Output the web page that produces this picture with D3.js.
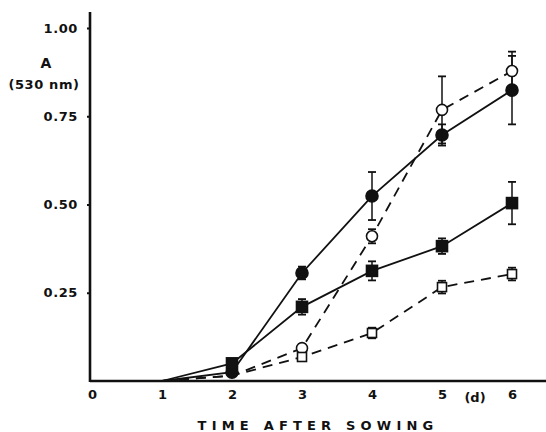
<!DOCTYPE html>
<html>
<head>
<meta charset="utf-8">
<script src="https://cdn.jsdelivr.net/npm/d3@7"></script>
<style>
  body { margin: 0; background: #fff; }
  text { font-family: "DejaVu Sans", sans-serif; font-weight: bold; fill: #111; }
</style>
</head>
<body>
<svg id="chart" width="546" height="432"></svg>
<script>
// days after sowing
const days = [1, 2, 3, 4, 5, 6];

// filled circles, solid line
const fillCircle = [0, 0.025, 0.306, 0.524, 0.697, 0.824];
const fillCircleErr = [0, 0, 0.018, 0.068, 0.03, 0.097];
// open circles, dashed line
const openCircle = [0, 0.015, 0.093, 0.41, 0.768, 0.878];
const openCircleErr = [0, 0, 0.012, 0.02, 0.095, 0.055];
// filled squares, solid line
const fillSquare = [0, 0.05, 0.21, 0.312, 0.382, 0.504];
const fillSquareErr = [0, 0, 0.022, 0.027, 0.022, 0.06];
// open squares, dashed line
const openSquare = [0, 0.015, 0.068, 0.136, 0.266, 0.303];
const openSquareErr = [0, 0, 0.008, 0.015, 0.018, 0.018];

const xTicks = [0, 1, 2, 3, 4, 5, 6];
const yTicks = [0.25, 0.5, 0.75, 1.0];

const svg = d3.select("#chart");
const x = d3.scaleLinear().domain([0, 6]).range([92, 512]);
const y = d3.scaleLinear().domain([0, 1]).range([381, 28]);

// axes
svg.append("line").attr("x1", 90).attr("x2", 546).attr("y1", 381).attr("y2", 381)
  .attr("stroke", "#111").attr("stroke-width", 2.6);
svg.append("line").attr("x1", 90).attr("x2", 90).attr("y1", 12).attr("y2", 382)
  .attr("stroke", "#111").attr("stroke-width", 2.6);

const yAxis = d3.axisLeft(y).tickValues(yTicks).tickSize(3).tickFormat(d3.format(".2f"));
const gy = svg.append("g").attr("transform", "translate(90,0)").call(yAxis);
gy.select(".domain").remove();
gy.selectAll(".tick line").attr("stroke", "#111").attr("stroke-width", 2);
gy.selectAll(".tick text").attr("x", -12).attr("font-size", 13).attr("letter-spacing", 0.6)
  .style("font-family", "'DejaVu Sans', sans-serif").style("font-weight", "bold");

const xAxis = d3.axisBottom(x).tickValues(xTicks).tickSize(0).tickFormat(d3.format("d"));
const gx = svg.append("g").attr("transform", "translate(0,381)").call(xAxis);
gx.select(".domain").remove();
gx.selectAll(".tick text").attr("y", 9).attr("font-size", 13)
  .style("font-family", "'DejaVu Sans', sans-serif").style("font-weight", "bold");

svg.append("text").attr("x", 475).attr("y", 402).attr("text-anchor", "middle")
  .attr("font-size", 13).text("(d)");
svg.append("text").attr("x", 46).attr("y", 68).attr("text-anchor", "middle")
  .attr("font-size", 14).text("A");
svg.append("text").attr("x", 44).attr("y", 89).attr("text-anchor", "middle")
  .attr("font-size", 13).attr("letter-spacing", 0.6).text("(530 nm)");
svg.append("text").attr("x", 318).attr("y", 430).attr("text-anchor", "middle")
  .attr("font-size", 13).attr("letter-spacing", 5.2).text("TIME AFTER SOWING");

const series = [
  { vals: fillCircle, err: fillCircleErr, shape: "circle", fill: "#111", dash: null },
  { vals: openCircle, err: openCircleErr, shape: "circle", fill: "#fff", dash: "10,7" },
  { vals: fillSquare, err: fillSquareErr, shape: "square", fill: "#111", dash: null },
  { vals: openSquare, err: openSquareErr, shape: "square", fill: "#fff", dash: "10,7" }
];

const line = d3.line().x((d, i) => x(days[i])).y(d => y(d));

series.forEach(s => {
  svg.append("path").datum(s.vals).attr("d", line)
    .attr("fill", "none").attr("stroke", "#111").attr("stroke-width", 1.8)
    .attr("stroke-dasharray", s.dash);
});

series.forEach(s => {
  const g = svg.append("g");
  s.vals.forEach((v, i) => {
    if (i < 2) return;
    const e = s.err[i];
    if (e > 0) {
      const cx = x(days[i]);
      g.append("line").attr("x1", cx).attr("x2", cx).attr("y1", y(v + e)).attr("y2", y(v - e))
        .attr("stroke", "#111").attr("stroke-width", 1.5);
      [v + e, v - e].forEach(t => {
        g.append("line").attr("x1", cx - 4).attr("x2", cx + 4).attr("y1", y(t)).attr("y2", y(t))
          .attr("stroke", "#111").attr("stroke-width", 1.8);
      });
    }
  });
  s.vals.forEach((v, i) => {
    if (i < 1) return;
    if (i === 1 && s.fill === "#fff") return;
    const cx = x(days[i]), cy = y(v);
    if (s.shape === "circle") {
      g.append("circle").attr("cx", cx).attr("cy", cy).attr("r", s.fill === "#fff" ? 5.5 : 6)
        .attr("fill", s.fill).attr("stroke", "#111").attr("stroke-width", 1.6);
    } else {
      const h = s.fill === "#fff" ? 4.5 : 5.5;
      g.append("rect").attr("x", cx - h).attr("y", cy - h).attr("width", 2 * h).attr("height", 2 * h)
        .attr("fill", s.fill).attr("stroke", "#111").attr("stroke-width", 1.6);
    }
  });
});
</script>
</body>
</html>
